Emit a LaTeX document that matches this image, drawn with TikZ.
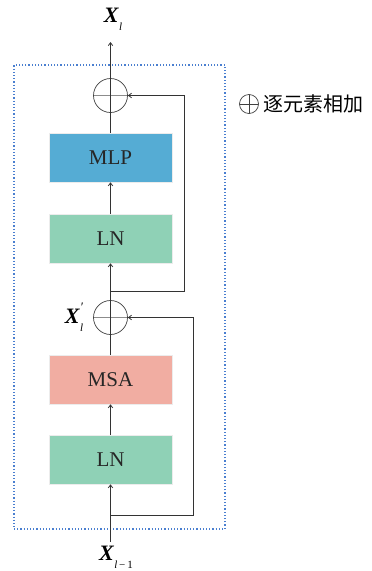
\documentclass[tikz,border=0pt]{standalone}
\usepackage{fontspec}
\setmainfont{Liberation Serif}
\newfontfamily\cjk{Noto Sans CJK SC}
\usetikzlibrary{arrows.meta}
\definecolor{mlpblue}{HTML}{55ACD4}
\definecolor{lngreen}{HTML}{8FD1B6}
\definecolor{msared}{HTML}{F1ADA2}
\definecolor{framedot}{HTML}{4A7FD0}
\newcommand{\subsz}[1]{\raisebox{-0.35em}{\fontsize{11}{11}\selectfont #1}}
\newcommand{\bX}{\textbf{\textit{X}}}
\begin{document}
\begin{tikzpicture}[x=1pt,y=-1pt,
  blk/.style={draw=white!85!gray,line width=0.6pt,minimum width=123pt,minimum height=49pt,inner sep=0pt,font=\fontsize{21}{21}\selectfont,text=black!85},
  addnode/.style={circle,draw=black!75,line width=0.7pt,minimum size=34pt,inner sep=0pt,
    path picture={\draw[black!45,line width=0.6pt] (path picture bounding box.west)--(path picture bounding box.east);}},
  conn/.style={draw=black!80,line width=0.8pt},
  arr/.style={conn,-{Straight Barb[length=3pt,width=4.5pt]}},
  lab/.style={font=\fontsize{22}{22}\selectfont,inner sep=0pt}]
\useasboundingbox (0,0) rectangle (372,571);
% frame
\node[draw=framedot,dotted,line width=1.2pt,minimum width=211pt,minimum height=464pt,inner sep=0pt] (frame) at (119.5,297) {};
% blocks
\node[blk,fill=lngreen] (ln1) at (110.5,459.5) {LN};
\node[blk,fill=msared] (msa) at (110.5,379.5) {MSA};
\node[addnode] (add1) at (110.5,317.5) {};
\node[blk,fill=lngreen] (ln2) at (110.5,238.5) {LN};
\node[blk,fill=mlpblue] (mlp) at (110.5,157.5) {MLP};
\node[addnode] (add2) at (110.5,95.5) {};
% labels
\node[lab] (xin) at (116,557) {\bX\subsz{\textit{l}\,−\,1}};
\node[lab] (xout) at (113,19) {\bX\subsz{\textit{l}}};
\node[lab] (xmid) at (74,317) {\bX\rlap{\raisebox{0.55em}{\fontsize{13}{13}\selectfont\textit{′}}}\subsz{\textit{l}}\hspace{0.25em}};
% coordinates
\coordinate (bot) at (110.5,542);
\coordinate (s1a) at (110.5,515);
\coordinate (s1b) at (193,515);
\coordinate (s1c) at (193,317.5);
\coordinate (s2a) at (110.5,291);
\coordinate (s2b) at (184,291);
\coordinate (s2c) at (184,95.5);
\coordinate (top) at (110.5,42);
% main path
\draw[arr] (bot) -- (ln1.south);
\draw[arr] (ln1.north) -- (msa.south);
\draw[conn] (msa.north) -- (add1.south);
\draw[conn] (add1.south) -- (add1.north);
\draw[arr] (add1.north) -- (ln2.south);
\draw[arr] (ln2.north) -- (mlp.south);
\draw[conn] (mlp.north) -- (add2.south);
\draw[conn] (add2.south) -- (add2.north);
\draw[arr] (add2.north) -- (top);
% skips
\draw[arr] (s1a) -- (s1b) -- (s1c) -- (add1.east);
\draw[arr] (s2a) -- (s2b) -- (s2c) -- (add2.east);
% legend
\node[circle,draw=black!75,line width=0.7pt,minimum size=19pt,inner sep=0pt,
  path picture={\draw[black!75,line width=0.6pt] (path picture bounding box.west)--(path picture bounding box.east) (path picture bounding box.north)--(path picture bounding box.south);}] (leg) at (249,104) {};
\node[anchor=west,inner sep=0pt,font=\cjk\fontsize{20}{20}\selectfont] (legtxt) at (263,104) {逐元素相加};
\end{tikzpicture}
\end{document}
